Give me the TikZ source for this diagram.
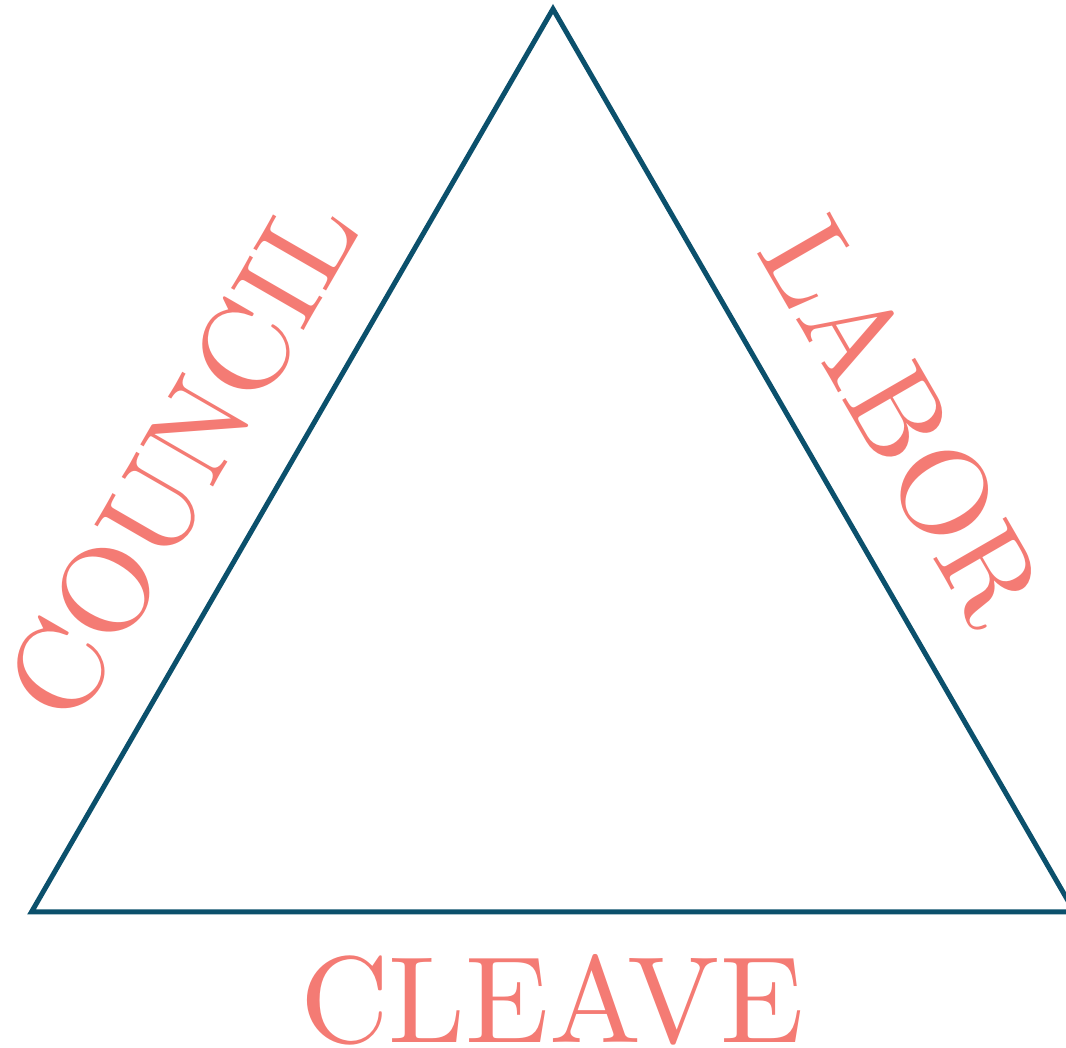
\documentclass[tikz,border=0pt]{standalone}
\definecolor{salmon}{RGB}{244,123,116}
\definecolor{teal}{RGB}{11,80,108}
\font\bigcm=cmr10 at 123pt
\tikzset{
  lbl/.style={text=salmon, inner sep=0pt, anchor=center, font=\bigcm}
}
\begin{document}
\begin{tikzpicture}[x=1pt,y=1pt]
\useasboundingbox (0,0) rectangle (1066,1048);
\clip (0,0) rectangle (1066,1048);
\coordinate (T) at (553,1039);
\coordinate (BL) at (31.5,136);
\coordinate (BR) at (1074.5,136);
\draw[teal, line width=5pt] (T) -- (BL) -- (BR) -- cycle;
\node[lbl] (cleave) at (552,48) {CLEAVE};
\node[lbl, rotate=60] (council) at (182,590) {COUNCIL};
\node[lbl, rotate=-60] (labor) at (903,627) {LABOR};
\end{tikzpicture}
\end{document}
